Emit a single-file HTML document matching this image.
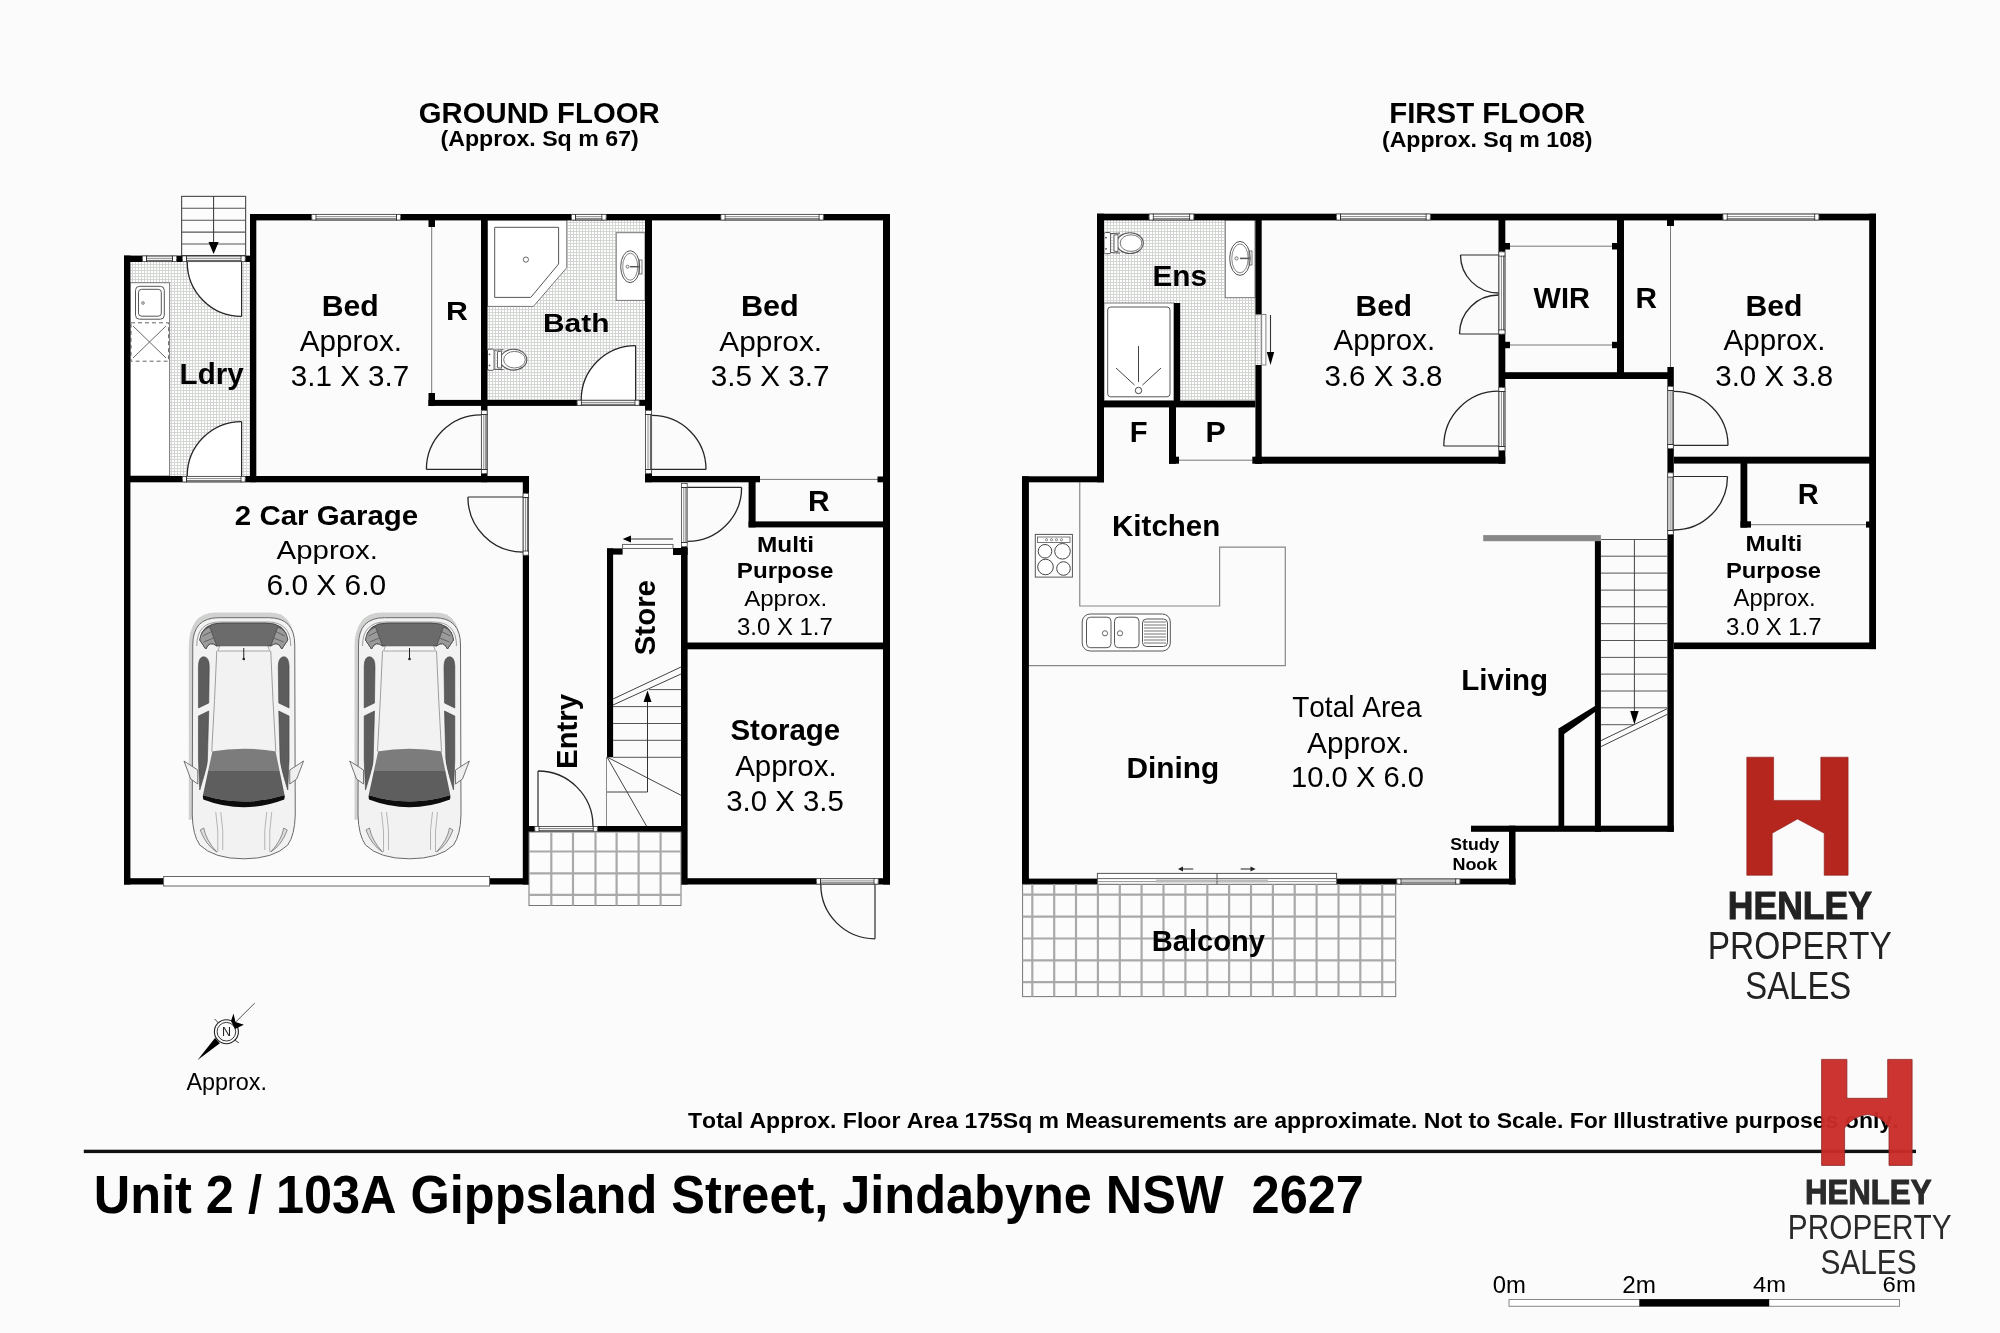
<!DOCTYPE html>
<html><head><meta charset="utf-8"><title>Floor plan</title>
<style>
html,body{margin:0;padding:0;background:#fbfbfb;overflow:hidden;width:2000px;height:1333px;}
svg{display:block;}
text{font-family:"Liberation Sans",sans-serif;font-kerning:none;}
svg{will-change:transform;}
</style></head><body>
<svg width="2000" height="1333" viewBox="0 0 2000 1333">
<defs>
<pattern id="tile" width="3" height="3" patternUnits="userSpaceOnUse"><rect width="3" height="3" fill="#fff"/><rect x="0" y="0" width="3" height="1" fill="#d3d6d3"/><rect x="0" y="0" width="1" height="3" fill="#d3d6d3"/></pattern>
</defs>
<rect width="2000" height="1333" fill="#fbfbfb"/>
<rect x="130.4" y="262" width="119.6" height="214" fill="url(#tile)"/>
<rect x="487.5" y="220" width="157.5" height="180" fill="url(#tile)"/>
<rect x="130" y="282.7" width="39.6" height="193.3" fill="#fff" stroke="#777" stroke-width="1"/>
<rect x="135.5" y="286.3" width="28.8" height="32.9" rx="4" fill="#fff" stroke="#555" stroke-width="1"/>
<rect x="138.5" y="289.3" width="22.8" height="26.9" rx="3" fill="none" stroke="#555" stroke-width="1"/>
<circle cx="143" cy="303" r="1.3" fill="none" stroke="#555" stroke-width="0.8"/>
<rect x="131" y="322.8" width="37.6" height="38.4" fill="none" stroke="#666" stroke-width="1" stroke-dasharray="4 3"/>
<line x1="133.0" y1="326.0" x2="166.0" y2="358.0" stroke="#666" stroke-width="1.00"/>
<line x1="166.0" y1="326.0" x2="133.0" y2="358.0" stroke="#666" stroke-width="1.00"/>
<path d="M241.6 262.0 L241.6 316.4 A54.4 54.4 0 0 1 187.2 262.0 Z" fill="#fff"/>
<line x1="241.6" y1="262.0" x2="241.6" y2="316.4" stroke="#2a2a2a" stroke-width="1.20"/>
<path d="M241.6 316.4 A54.4 54.4 0 0 1 187.2 262.0" fill="none" stroke="#262626" stroke-width="1.30"/>
<path d="M241.6 476.0 L241.6 421.6 A54.4 54.4 0 0 0 187.2 476.0 Z" fill="#fff"/>
<line x1="241.6" y1="476.0" x2="241.6" y2="421.6" stroke="#2a2a2a" stroke-width="1.20"/>
<path d="M241.6 421.6 A54.4 54.4 0 0 0 187.2 476.0" fill="none" stroke="#262626" stroke-width="1.30"/>
<rect x="181.6" y="196.4" width="64" height="59.2" fill="#fcfcfc" stroke="#555" stroke-width="1.2"/>
<line x1="181.6" y1="208.3" x2="245.6" y2="208.3" stroke="#555" stroke-width="1.10"/>
<line x1="181.6" y1="220.2" x2="245.6" y2="220.2" stroke="#555" stroke-width="1.10"/>
<line x1="181.6" y1="232.1" x2="245.6" y2="232.1" stroke="#555" stroke-width="1.10"/>
<line x1="181.6" y1="244.0" x2="245.6" y2="244.0" stroke="#555" stroke-width="1.10"/>
<line x1="213.6" y1="196.4" x2="213.6" y2="244.0" stroke="#333" stroke-width="1.00"/>
<path d="M208.5 242 L218.7 242 L213.6 254 Z" fill="#000"/>
<path d="M487.5 220 L566.75 220 L566.75 267.7 L533.4 306.4 L487.5 306.4 Z" fill="#fff" stroke="#777" stroke-width="1"/>
<path d="M494.7 227.3 L558.6 227.3 L558.6 264 L530.8 297.4 L494.7 297.4 Z" fill="none" stroke="#555" stroke-width="1"/>
<circle cx="525.9" cy="259.6" r="2.6" fill="none" stroke="#555" stroke-width="0.9"/>
<rect x="616.2" y="232.7" width="28.8" height="67.7" fill="#fff" stroke="#777" stroke-width="1"/>
<ellipse cx="630.2" cy="266.7" rx="9.5" ry="16" fill="#fff" stroke="#555" stroke-width="1"/>
<ellipse cx="630.2" cy="266.7" rx="7.5" ry="13.5" fill="none" stroke="#666" stroke-width="0.8"/>
<circle cx="627.5" cy="266.7" r="1.5" fill="none" stroke="#555" stroke-width="0.8"/>
<line x1="630.0" y1="266.7" x2="640.0" y2="266.7" stroke="#555" stroke-width="1.50"/>
<rect x="639" y="260" width="3" height="14" fill="none" stroke="#555" stroke-width="0.8"/>
<g transform="translate(487.5 359.7)">
<rect x="0" y="-10.6" width="6.6" height="21.2" rx="1.5" fill="#fff" stroke="#555" stroke-width="1"/>
<circle cx="2" cy="-5.4" r="0.9" fill="#555"/><circle cx="2" cy="5.7" r="0.9" fill="#555"/>
<ellipse cx="26" cy="0" rx="13.3" ry="10.4" fill="#fff" stroke="#555" stroke-width="1.1"/>
<path d="M6.6 -9.5 L16 -10 M6.6 9.5 L16 10" stroke="#555" stroke-width="1"/>
<path d="M10 -8 L14 -8.5 L14 8.5 L10 8 Z" fill="#fff" stroke="#555" stroke-width="0.9"/>
<ellipse cx="27" cy="0" rx="10.8" ry="8.3" fill="none" stroke="#666" stroke-width="0.9"/>
</g>
<path d="M635.6 400.0 L635.6 345.6 A54.3 54.3 0 0 0 581.2 400.0 Z" fill="#fff"/>
<line x1="635.6" y1="400.0" x2="635.6" y2="345.6" stroke="#2a2a2a" stroke-width="1.20"/>
<path d="M635.6 345.6 A54.3 54.3 0 0 0 581.2 400.0" fill="none" stroke="#262626" stroke-width="1.30"/>
<rect x="250.0" y="214.0" width="640.0" height="6.4" fill="#000"/>
<rect x="124.0" y="255.6" width="126.0" height="6.4" fill="#000"/>
<rect x="124.0" y="255.6" width="6.4" height="628.9" fill="#000"/>
<rect x="250.0" y="214.0" width="6.3" height="268.2" fill="#000"/>
<rect x="124.0" y="476.0" width="405.0" height="6.3" fill="#000"/>
<rect x="522.8" y="476.0" width="6.2" height="408.5" fill="#000"/>
<rect x="124.0" y="878.2" width="405.0" height="6.3" fill="#000"/>
<rect x="428.5" y="220.0" width="6.5" height="7.0" fill="#000"/>
<rect x="428.5" y="393.0" width="6.5" height="13.0" fill="#000"/>
<line x1="431.7" y1="227.0" x2="431.7" y2="393.0" stroke="#777" stroke-width="1.00"/>
<rect x="428.5" y="399.9" width="223.5" height="6.0" fill="#000"/>
<rect x="481.0" y="214.0" width="6.5" height="268.2" fill="#000"/>
<rect x="645.0" y="214.0" width="7.0" height="268.2" fill="#000"/>
<rect x="645.0" y="476.0" width="115.0" height="6.3" fill="#000"/>
<line x1="760.0" y1="479.4" x2="880.0" y2="479.4" stroke="#777" stroke-width="1.00"/>
<rect x="877.5" y="476.5" width="5.5" height="5.8" fill="#000"/>
<rect x="748.6" y="476.0" width="7.0" height="51.4" fill="#000"/>
<rect x="748.6" y="521.4" width="141.4" height="6.0" fill="#000"/>
<rect x="883.0" y="214.0" width="7.0" height="670.5" fill="#000"/>
<rect x="681.0" y="547.0" width="6.6" height="337.5" fill="#000"/>
<rect x="687.0" y="642.5" width="203.0" height="6.8" fill="#000"/>
<rect x="607.0" y="548.4" width="6.1" height="208.9" fill="#000"/>
<rect x="607.0" y="548.4" width="15.6" height="6.2" fill="#000"/>
<rect x="673.0" y="548.0" width="14.6" height="7.0" fill="#000"/>
<rect x="529.0" y="826.0" width="152.0" height="6.0" fill="#000"/>
<rect x="681.0" y="878.2" width="209.0" height="6.3" fill="#000"/>
<rect x="311.8" y="214.4" width="88.7" height="5.5" fill="#fff" stroke="#555" stroke-width="0.9"/>
<line x1="311.4" y1="216.7" x2="401.0" y2="216.7" stroke="#8a8a8a" stroke-width="1.00"/>
<line x1="311.4" y1="218.8" x2="401.0" y2="218.8" stroke="#444" stroke-width="0.90"/>
<line x1="315.9" y1="214.0" x2="315.9" y2="220.4" stroke="#333" stroke-width="1.00"/>
<line x1="396.5" y1="214.0" x2="396.5" y2="220.4" stroke="#333" stroke-width="1.00"/>
<rect x="312.4" y="215.0" width="3.0" height="4.4" fill="#fff"/>
<rect x="397.0" y="215.0" width="3.0" height="4.4" fill="#fff"/>
<rect x="571.5" y="214.4" width="34.6" height="5.5" fill="#fff" stroke="#555" stroke-width="0.9"/>
<line x1="571.0" y1="216.7" x2="606.5" y2="216.7" stroke="#8a8a8a" stroke-width="1.00"/>
<line x1="571.0" y1="218.8" x2="606.5" y2="218.8" stroke="#444" stroke-width="0.90"/>
<line x1="575.5" y1="214.0" x2="575.5" y2="220.4" stroke="#333" stroke-width="1.00"/>
<line x1="602.0" y1="214.0" x2="602.0" y2="220.4" stroke="#333" stroke-width="1.00"/>
<rect x="572.0" y="215.0" width="3.0" height="4.4" fill="#fff"/>
<rect x="602.5" y="215.0" width="3.0" height="4.4" fill="#fff"/>
<rect x="721.0" y="214.4" width="102.3" height="5.5" fill="#fff" stroke="#555" stroke-width="0.9"/>
<line x1="720.5" y1="216.7" x2="823.7" y2="216.7" stroke="#8a8a8a" stroke-width="1.00"/>
<line x1="720.5" y1="218.8" x2="823.7" y2="218.8" stroke="#444" stroke-width="0.90"/>
<line x1="725.0" y1="214.0" x2="725.0" y2="220.4" stroke="#333" stroke-width="1.00"/>
<line x1="819.2" y1="214.0" x2="819.2" y2="220.4" stroke="#333" stroke-width="1.00"/>
<rect x="721.5" y="215.0" width="3.0" height="4.4" fill="#fff"/>
<rect x="819.7" y="215.0" width="3.0" height="4.4" fill="#fff"/>
<rect x="142.4" y="256.1" width="34.1" height="5.5" fill="#fff" stroke="#555" stroke-width="0.9"/>
<line x1="142.0" y1="258.3" x2="177.0" y2="258.3" stroke="#8a8a8a" stroke-width="1.00"/>
<line x1="142.0" y1="260.4" x2="177.0" y2="260.4" stroke="#444" stroke-width="0.90"/>
<line x1="146.5" y1="255.6" x2="146.5" y2="262.0" stroke="#333" stroke-width="1.00"/>
<line x1="172.5" y1="255.6" x2="172.5" y2="262.0" stroke="#333" stroke-width="1.00"/>
<rect x="143.0" y="256.6" width="3.0" height="4.4" fill="#fff"/>
<rect x="173.0" y="256.6" width="3.0" height="4.4" fill="#fff"/>
<rect x="182.4" y="256.1" width="62.7" height="5.5" fill="#fff" stroke="#555" stroke-width="0.9"/>
<line x1="182.0" y1="258.3" x2="245.6" y2="258.3" stroke="#8a8a8a" stroke-width="1.00"/>
<line x1="182.0" y1="260.4" x2="245.6" y2="260.4" stroke="#444" stroke-width="0.90"/>
<line x1="186.5" y1="255.6" x2="186.5" y2="262.0" stroke="#333" stroke-width="1.00"/>
<line x1="241.1" y1="255.6" x2="241.1" y2="262.0" stroke="#333" stroke-width="1.00"/>
<rect x="183.0" y="256.6" width="3.0" height="4.4" fill="#fff"/>
<rect x="241.6" y="256.6" width="3.0" height="4.4" fill="#fff"/>
<rect x="182.4" y="476.4" width="62.7" height="5.4" fill="#fff" stroke="#555" stroke-width="0.9"/>
<line x1="182.0" y1="478.6" x2="245.6" y2="478.6" stroke="#8a8a8a" stroke-width="1.00"/>
<line x1="182.0" y1="480.7" x2="245.6" y2="480.7" stroke="#444" stroke-width="0.90"/>
<line x1="186.5" y1="476.0" x2="186.5" y2="482.3" stroke="#333" stroke-width="1.00"/>
<line x1="241.1" y1="476.0" x2="241.1" y2="482.3" stroke="#333" stroke-width="1.00"/>
<rect x="183.0" y="477.0" width="3.0" height="4.3" fill="#fff"/>
<rect x="241.6" y="477.0" width="3.0" height="4.3" fill="#fff"/>
<rect x="577.2" y="400.3" width="61.9" height="5.1" fill="#fff" stroke="#555" stroke-width="0.9"/>
<line x1="576.8" y1="402.4" x2="639.6" y2="402.4" stroke="#8a8a8a" stroke-width="1.00"/>
<line x1="576.8" y1="404.3" x2="639.6" y2="404.3" stroke="#444" stroke-width="0.90"/>
<line x1="581.3" y1="399.9" x2="581.3" y2="405.9" stroke="#333" stroke-width="1.00"/>
<line x1="635.1" y1="399.9" x2="635.1" y2="405.9" stroke="#333" stroke-width="1.00"/>
<rect x="577.8" y="400.9" width="3.0" height="4.0" fill="#fff"/>
<rect x="635.6" y="400.9" width="3.0" height="4.0" fill="#fff"/>
<rect x="481.4" y="410.4" width="5.6" height="63.1" fill="#fff" stroke="#555" stroke-width="0.9"/>
<line x1="483.8" y1="410.0" x2="483.8" y2="474.0" stroke="#8a8a8a" stroke-width="1.00"/>
<line x1="485.9" y1="410.0" x2="485.9" y2="474.0" stroke="#444" stroke-width="0.90"/>
<line x1="481.0" y1="414.5" x2="487.5" y2="414.5" stroke="#333" stroke-width="1.00"/>
<line x1="481.0" y1="469.5" x2="487.5" y2="469.5" stroke="#333" stroke-width="1.00"/>
<rect x="482.0" y="411.0" width="4.5" height="3.0" fill="#fff"/>
<rect x="482.0" y="470.0" width="4.5" height="3.0" fill="#fff"/>
<rect x="645.5" y="410.4" width="6.1" height="63.1" fill="#fff" stroke="#555" stroke-width="0.9"/>
<line x1="648.0" y1="410.0" x2="648.0" y2="474.0" stroke="#8a8a8a" stroke-width="1.00"/>
<line x1="650.4" y1="410.0" x2="650.4" y2="474.0" stroke="#444" stroke-width="0.90"/>
<line x1="645.0" y1="414.5" x2="652.0" y2="414.5" stroke="#333" stroke-width="1.00"/>
<line x1="645.0" y1="469.5" x2="652.0" y2="469.5" stroke="#333" stroke-width="1.00"/>
<rect x="646.0" y="411.0" width="5.0" height="3.0" fill="#fff"/>
<rect x="646.0" y="470.0" width="5.0" height="3.0" fill="#fff"/>
<rect x="523.2" y="493.4" width="5.3" height="61.7" fill="#fff" stroke="#555" stroke-width="0.9"/>
<line x1="525.4" y1="493.0" x2="525.4" y2="555.6" stroke="#8a8a8a" stroke-width="1.00"/>
<line x1="527.4" y1="493.0" x2="527.4" y2="555.6" stroke="#444" stroke-width="0.90"/>
<line x1="522.8" y1="497.5" x2="529.0" y2="497.5" stroke="#333" stroke-width="1.00"/>
<line x1="522.8" y1="551.1" x2="529.0" y2="551.1" stroke="#333" stroke-width="1.00"/>
<rect x="523.8" y="494.0" width="4.2" height="3.0" fill="#fff"/>
<rect x="523.8" y="551.6" width="4.2" height="3.0" fill="#fff"/>
<rect x="681.5" y="483.4" width="5.7" height="63.1" fill="#fff" stroke="#555" stroke-width="0.9"/>
<line x1="683.8" y1="483.0" x2="683.8" y2="547.0" stroke="#8a8a8a" stroke-width="1.00"/>
<line x1="686.0" y1="483.0" x2="686.0" y2="547.0" stroke="#444" stroke-width="0.90"/>
<line x1="681.0" y1="487.5" x2="687.6" y2="487.5" stroke="#333" stroke-width="1.00"/>
<line x1="681.0" y1="542.5" x2="687.6" y2="542.5" stroke="#333" stroke-width="1.00"/>
<rect x="682.0" y="484.0" width="4.6" height="3.0" fill="#fff"/>
<rect x="682.0" y="543.0" width="4.6" height="3.0" fill="#fff"/>
<rect x="534.9" y="826.5" width="62.5" height="5.1" fill="#fff" stroke="#555" stroke-width="0.9"/>
<line x1="534.4" y1="828.5" x2="597.8" y2="828.5" stroke="#8a8a8a" stroke-width="1.00"/>
<line x1="534.4" y1="830.4" x2="597.8" y2="830.4" stroke="#444" stroke-width="0.90"/>
<line x1="538.9" y1="826.0" x2="538.9" y2="832.0" stroke="#333" stroke-width="1.00"/>
<line x1="593.3" y1="826.0" x2="593.3" y2="832.0" stroke="#333" stroke-width="1.00"/>
<rect x="535.4" y="827.0" width="3.0" height="4.0" fill="#fff"/>
<rect x="593.8" y="827.0" width="3.0" height="4.0" fill="#fff"/>
<rect x="816.5" y="878.7" width="61.7" height="5.4" fill="#fff" stroke="#555" stroke-width="0.9"/>
<line x1="816.0" y1="880.9" x2="878.6" y2="880.9" stroke="#8a8a8a" stroke-width="1.00"/>
<line x1="816.0" y1="882.9" x2="878.6" y2="882.9" stroke="#444" stroke-width="0.90"/>
<line x1="820.5" y1="878.2" x2="820.5" y2="884.5" stroke="#333" stroke-width="1.00"/>
<line x1="874.1" y1="878.2" x2="874.1" y2="884.5" stroke="#333" stroke-width="1.00"/>
<rect x="817.0" y="879.2" width="3.0" height="4.3" fill="#fff"/>
<rect x="874.6" y="879.2" width="3.0" height="4.3" fill="#fff"/>
<rect x="163.6" y="876.5" width="325.9" height="9.5" fill="#fff" stroke="#666" stroke-width="1"/>
<rect x="622.6" y="544.4" width="50.4" height="4" fill="#fff" stroke="#555" stroke-width="0.9"/>
<line x1="628.0" y1="539.0" x2="673.0" y2="539.0" stroke="#333" stroke-width="1.10"/>
<path d="M622.7 539 L631 535.5 L631 542.5 Z" fill="#000"/>
<line x1="481.0" y1="469.4" x2="426.4" y2="469.4" stroke="#2a2a2a" stroke-width="1.20"/>
<path d="M426.4 469.4 A54.6 54.6 0 0 1 481.0 414.8" fill="none" stroke="#262626" stroke-width="1.30"/>
<line x1="652.0" y1="469.4" x2="706.0" y2="469.4" stroke="#2a2a2a" stroke-width="1.20"/>
<path d="M706.0 469.4 A54.0 54.0 0 0 0 652.0 415.4" fill="none" stroke="#262626" stroke-width="1.30"/>
<line x1="523.0" y1="497.0" x2="467.9" y2="497.0" stroke="#2a2a2a" stroke-width="1.20"/>
<path d="M467.9 497.0 A55.1 55.1 0 0 0 523.0 552.1" fill="none" stroke="#262626" stroke-width="1.30"/>
<line x1="687.6" y1="487.4" x2="741.6" y2="487.4" stroke="#2a2a2a" stroke-width="1.20"/>
<path d="M741.6 487.4 A54.0 54.0 0 0 1 687.6 541.4" fill="none" stroke="#262626" stroke-width="1.30"/>
<line x1="538.0" y1="826.0" x2="538.0" y2="771.0" stroke="#2a2a2a" stroke-width="1.20"/>
<path d="M538.0 771.0 A55.0 55.0 0 0 1 593.0 826.0" fill="none" stroke="#262626" stroke-width="1.30"/>
<line x1="875.0" y1="884.5" x2="875.0" y2="938.8" stroke="#2a2a2a" stroke-width="1.20"/>
<path d="M875.0 938.8 A54.2 54.2 0 0 1 820.8 884.5" fill="none" stroke="#262626" stroke-width="1.30"/>
<line x1="613.0" y1="699.0" x2="681.0" y2="667.0" stroke="#444" stroke-width="1.00"/>
<line x1="613.0" y1="705.0" x2="681.0" y2="674.0" stroke="#444" stroke-width="1.00"/>
<line x1="649.0" y1="689.6" x2="681.0" y2="689.6" stroke="#555" stroke-width="1.00"/>
<line x1="613.0" y1="706.6" x2="681.0" y2="706.6" stroke="#555" stroke-width="1.00"/>
<line x1="613.0" y1="723.5" x2="681.0" y2="723.5" stroke="#555" stroke-width="1.00"/>
<line x1="613.0" y1="740.3" x2="681.0" y2="740.3" stroke="#555" stroke-width="1.00"/>
<line x1="613.0" y1="757.3" x2="681.0" y2="757.3" stroke="#555" stroke-width="1.00"/>
<line x1="606.5" y1="757.0" x2="606.5" y2="826.0" stroke="#888" stroke-width="1.00"/>
<line x1="607.0" y1="757.0" x2="681.0" y2="795.3" stroke="#444" stroke-width="1.00"/>
<line x1="607.0" y1="757.0" x2="646.5" y2="826.0" stroke="#444" stroke-width="1.00"/>
<line x1="607.0" y1="792.0" x2="647.5" y2="792.0" stroke="#444" stroke-width="1.00"/>
<line x1="647.5" y1="792.0" x2="647.5" y2="700.0" stroke="#333" stroke-width="1.00"/>
<path d="M647.5 690.5 L643.5 702 L651.5 702 Z" fill="#000"/>
<rect x="529" y="832" width="152" height="73.5" fill="#fcfcfc" stroke="#777" stroke-width="1"/>
<line x1="551.3" y1="832.0" x2="551.3" y2="905.5" stroke="#a9a9a9" stroke-width="2.20"/>
<line x1="573.0" y1="832.0" x2="573.0" y2="905.5" stroke="#a9a9a9" stroke-width="2.20"/>
<line x1="595.5" y1="832.0" x2="595.5" y2="905.5" stroke="#a9a9a9" stroke-width="2.20"/>
<line x1="616.6" y1="832.0" x2="616.6" y2="905.5" stroke="#a9a9a9" stroke-width="2.20"/>
<line x1="638.6" y1="832.0" x2="638.6" y2="905.5" stroke="#a9a9a9" stroke-width="2.20"/>
<line x1="660.6" y1="832.0" x2="660.6" y2="905.5" stroke="#a9a9a9" stroke-width="2.20"/>
<line x1="529.0" y1="851.5" x2="681.0" y2="851.5" stroke="#a9a9a9" stroke-width="2.20"/>
<line x1="529.0" y1="873.3" x2="681.0" y2="873.3" stroke="#a9a9a9" stroke-width="2.20"/>
<line x1="529.0" y1="894.8" x2="681.0" y2="894.8" stroke="#a9a9a9" stroke-width="2.20"/>
<g transform="translate(243.75 0)">
<path d="M-55 648 Q-55 612.4 -28 612.4 L26 612.4 Q49 612.4 50 640 L50 800 L-55 820 Z" fill="#cfd2cf"/>
<path d="M-51 645 Q-51 617.7 -25 617.7 L25 617.7 Q51 617.7 51 645 L51.5 815 Q51 835 44 845 Q30 858.8 0 858.8 Q-30 858.8 -44 845 Q-51 835 -51.5 815 Z" fill="#f2f2f2" stroke="#6a6a6a" stroke-width="1"/>
<path d="M-47 646 Q-47 622 -24 622 L24 622 Q47 622 47 646" fill="none" stroke="#888" stroke-width="0.8"/>
<path d="M-44 640 Q-42 623 -22 623 L22 623 Q42 623 44 640 L38 649 Q34 640 27 646 L-27 646 Q-34 640 -38 649 Z" fill="#6b6b6b" stroke="#3a3a3a" stroke-width="0.8"/>
<path d="M-44 640 Q-43 630 -34 627 L-27 646 Q-34 640 -38 649 Z" fill="#9a9a9a" stroke="#444" stroke-width="0.7"/>
<path d="M44 640 Q43 630 34 627 L27 646 Q34 640 38 649 Z" fill="#9a9a9a" stroke="#444" stroke-width="0.7"/>
<path d="M-41 636 L-31 631 M-40 642 L-30 638 M41 636 L31 631 M40 642 L30 638" stroke="#555" stroke-width="0.8"/>
<path d="M-24 646 L24 646 L26 651 L-26 651 Z" fill="#f6f6f6" stroke="#888" stroke-width="0.7"/>
<path d="M-27 651 Q-29 700 -32 751 M27 651 Q29 700 32 751" fill="none" stroke="#888" stroke-width="0.8"/>
<path d="M-45.3 666 Q-45 656.7 -40 656.7 Q-34.5 657 -34.5 667 L-35 703 L-45.3 708 Z" fill="#5d5d5d" stroke="#444" stroke-width="0.6"/>
<path d="M45.3 666 Q45 656.7 40 656.7 Q34.5 657 34.5 667 L35 703 L45.3 708 Z" fill="#5d5d5d" stroke="#444" stroke-width="0.6"/>
<path d="M-45.3 716 L-35 711 L-36.5 765 L-44 790 L-45.3 760 Z" fill="#5d5d5d" stroke="#444" stroke-width="0.6"/>
<path d="M45.3 716 L35 711 L36.5 765 L44 790 L45.3 760 Z" fill="#5d5d5d" stroke="#444" stroke-width="0.6"/>
<path d="M-32.5 751.4 Q0 746 32.9 751.4 L37 771 L-37 771 Z" fill="#7c7c7c"/>
<path d="M-37 771 L37 771 L41.3 795 Q0 808 -41.3 795 Z" fill="#5e5e5e"/>
<path d="M-41.3 795 Q0 808 41.3 795 L40.5 799.5 Q0 815 -40.5 799.5 Z" fill="#0d0d0d"/>
<path d="M-32.5 751.4 L-43 800 M32.9 751.4 L43 800" stroke="#f2f2f2" stroke-width="2.2"/>
<path d="M-46 770 L-59.8 761 L-53 779 L-46 784 Z" fill="#efefef" stroke="#555" stroke-width="0.8"/>
<path d="M46 770 L59.8 761 L53 779 L46 784 Z" fill="#efefef" stroke="#555" stroke-width="0.8"/>
<path d="M-28 812 Q-25 830 -26 852 M28 812 Q25 830 26 852 M-23 812 Q-20 830 -21 850 M23 812 Q20 830 21 850" fill="none" stroke="#9a9a9a" stroke-width="0.7"/>
<path d="M-43.5 830 Q-38 845 -27 852 Q-38 840 -40 828 Z M43.5 830 Q38 845 27 852 Q38 840 40 828 Z" fill="#ddd" stroke="#666" stroke-width="0.7"/>
<line x1="0.0" y1="648.0" x2="0.0" y2="658.0" stroke="#222" stroke-width="1.00"/>
<circle cx="0" cy="659" r="1.3" fill="#222"/>
</g>
<g transform="translate(409.50 0)">
<path d="M-55 648 Q-55 612.4 -28 612.4 L26 612.4 Q49 612.4 50 640 L50 800 L-55 820 Z" fill="#cfd2cf"/>
<path d="M-51 645 Q-51 617.7 -25 617.7 L25 617.7 Q51 617.7 51 645 L51.5 815 Q51 835 44 845 Q30 858.8 0 858.8 Q-30 858.8 -44 845 Q-51 835 -51.5 815 Z" fill="#f2f2f2" stroke="#6a6a6a" stroke-width="1"/>
<path d="M-47 646 Q-47 622 -24 622 L24 622 Q47 622 47 646" fill="none" stroke="#888" stroke-width="0.8"/>
<path d="M-44 640 Q-42 623 -22 623 L22 623 Q42 623 44 640 L38 649 Q34 640 27 646 L-27 646 Q-34 640 -38 649 Z" fill="#6b6b6b" stroke="#3a3a3a" stroke-width="0.8"/>
<path d="M-44 640 Q-43 630 -34 627 L-27 646 Q-34 640 -38 649 Z" fill="#9a9a9a" stroke="#444" stroke-width="0.7"/>
<path d="M44 640 Q43 630 34 627 L27 646 Q34 640 38 649 Z" fill="#9a9a9a" stroke="#444" stroke-width="0.7"/>
<path d="M-41 636 L-31 631 M-40 642 L-30 638 M41 636 L31 631 M40 642 L30 638" stroke="#555" stroke-width="0.8"/>
<path d="M-24 646 L24 646 L26 651 L-26 651 Z" fill="#f6f6f6" stroke="#888" stroke-width="0.7"/>
<path d="M-27 651 Q-29 700 -32 751 M27 651 Q29 700 32 751" fill="none" stroke="#888" stroke-width="0.8"/>
<path d="M-45.3 666 Q-45 656.7 -40 656.7 Q-34.5 657 -34.5 667 L-35 703 L-45.3 708 Z" fill="#5d5d5d" stroke="#444" stroke-width="0.6"/>
<path d="M45.3 666 Q45 656.7 40 656.7 Q34.5 657 34.5 667 L35 703 L45.3 708 Z" fill="#5d5d5d" stroke="#444" stroke-width="0.6"/>
<path d="M-45.3 716 L-35 711 L-36.5 765 L-44 790 L-45.3 760 Z" fill="#5d5d5d" stroke="#444" stroke-width="0.6"/>
<path d="M45.3 716 L35 711 L36.5 765 L44 790 L45.3 760 Z" fill="#5d5d5d" stroke="#444" stroke-width="0.6"/>
<path d="M-32.5 751.4 Q0 746 32.9 751.4 L37 771 L-37 771 Z" fill="#7c7c7c"/>
<path d="M-37 771 L37 771 L41.3 795 Q0 808 -41.3 795 Z" fill="#5e5e5e"/>
<path d="M-41.3 795 Q0 808 41.3 795 L40.5 799.5 Q0 815 -40.5 799.5 Z" fill="#0d0d0d"/>
<path d="M-32.5 751.4 L-43 800 M32.9 751.4 L43 800" stroke="#f2f2f2" stroke-width="2.2"/>
<path d="M-46 770 L-59.8 761 L-53 779 L-46 784 Z" fill="#efefef" stroke="#555" stroke-width="0.8"/>
<path d="M46 770 L59.8 761 L53 779 L46 784 Z" fill="#efefef" stroke="#555" stroke-width="0.8"/>
<path d="M-28 812 Q-25 830 -26 852 M28 812 Q25 830 26 852 M-23 812 Q-20 830 -21 850 M23 812 Q20 830 21 850" fill="none" stroke="#9a9a9a" stroke-width="0.7"/>
<path d="M-43.5 830 Q-38 845 -27 852 Q-38 840 -40 828 Z M43.5 830 Q38 845 27 852 Q38 840 40 828 Z" fill="#ddd" stroke="#666" stroke-width="0.7"/>
<line x1="0.0" y1="648.0" x2="0.0" y2="658.0" stroke="#222" stroke-width="1.00"/>
<circle cx="0" cy="659" r="1.3" fill="#222"/>
</g>
<text x="418.80" y="123.20" font-size="30.23" font-weight="bold" textLength="240.80" lengthAdjust="spacingAndGlyphs" fill="#000">GROUND FLOOR</text>
<text x="440.45" y="146.40" font-size="22.53" font-weight="bold" textLength="198.31" lengthAdjust="spacingAndGlyphs" fill="#000">(Approx. Sq m 67)</text>
<text x="321.68" y="315.60" font-size="28.92" font-weight="bold" textLength="57.01" lengthAdjust="spacingAndGlyphs" fill="#000">Bed</text>
<text x="299.84" y="350.90" font-size="29.36" font-weight="normal" textLength="102.16" lengthAdjust="spacingAndGlyphs" fill="#000">Approx.</text>
<text x="290.87" y="385.90" font-size="28.92" font-weight="normal" textLength="118.31" lengthAdjust="spacingAndGlyphs" fill="#000">3.1 X 3.7</text>
<text x="445.98" y="320.40" font-size="26.16" font-weight="bold" textLength="21.84" lengthAdjust="spacingAndGlyphs" fill="#000">R</text>
<text x="179.62" y="384.00" font-size="29.65" font-weight="bold" textLength="64.04" lengthAdjust="spacingAndGlyphs" fill="#000">Ldry</text>
<text x="543.00" y="332.20" font-size="26.45" font-weight="bold" textLength="66.46" lengthAdjust="spacingAndGlyphs" fill="#000">Bath</text>
<text x="740.95" y="315.70" font-size="29.07" font-weight="bold" textLength="57.87" lengthAdjust="spacingAndGlyphs" fill="#000">Bed</text>
<text x="719.34" y="350.50" font-size="28.34" font-weight="normal" textLength="102.78" lengthAdjust="spacingAndGlyphs" fill="#000">Approx.</text>
<text x="710.77" y="386.00" font-size="29.65" font-weight="normal" textLength="118.72" lengthAdjust="spacingAndGlyphs" fill="#000">3.5 X 3.7</text>
<text x="808.00" y="511.00" font-size="29.07" font-weight="bold" textLength="21.62" lengthAdjust="spacingAndGlyphs" fill="#000">R</text>
<text x="756.97" y="552.40" font-size="22.97" font-weight="bold" textLength="56.96" lengthAdjust="spacingAndGlyphs" fill="#000">Multi</text>
<text x="736.89" y="577.50" font-size="22.53" font-weight="bold" textLength="96.54" lengthAdjust="spacingAndGlyphs" fill="#000">Purpose</text>
<text x="744.15" y="606.00" font-size="22.67" font-weight="normal" textLength="83.05" lengthAdjust="spacingAndGlyphs" fill="#000">Approx.</text>
<text x="737.09" y="634.50" font-size="24.27" font-weight="normal" textLength="95.71" lengthAdjust="spacingAndGlyphs" fill="#000">3.0 X 1.7</text>
<text x="234.88" y="524.50" font-size="28.34" font-weight="bold" textLength="183.23" lengthAdjust="spacingAndGlyphs" fill="#000">2 Car Garage</text>
<text x="276.64" y="558.90" font-size="26.60" font-weight="normal" textLength="101.24" lengthAdjust="spacingAndGlyphs" fill="#000">Approx.</text>
<text x="266.48" y="595.00" font-size="28.63" font-weight="normal" textLength="119.69" lengthAdjust="spacingAndGlyphs" fill="#000">6.0 X 6.0</text>
<text x="730.45" y="740.30" font-size="30.09" font-weight="bold" textLength="109.76" lengthAdjust="spacingAndGlyphs" fill="#000">Storage</text>
<text x="735.14" y="775.80" font-size="29.80" font-weight="normal" textLength="101.55" lengthAdjust="spacingAndGlyphs" fill="#000">Approx.</text>
<text x="726.28" y="810.50" font-size="29.22" font-weight="normal" textLength="117.45" lengthAdjust="spacingAndGlyphs" fill="#000">3.0 X 3.5</text>
<text transform="translate(655.00 654.50) rotate(-90)" x="-0.85" y="0" font-size="29.80" font-weight="bold" textLength="75.36" lengthAdjust="spacingAndGlyphs">Store</text>
<text transform="translate(576.80 767.00) rotate(-90)" x="-1.97" y="0" font-size="30.23" font-weight="bold" textLength="75.12" lengthAdjust="spacingAndGlyphs">Entry</text>
<circle cx="226.4" cy="1031.7" r="12" fill="#fcfcfc" stroke="#222" stroke-width="1.1"/>
<circle cx="226.4" cy="1031.7" r="9.3" fill="none" stroke="#222" stroke-width="0.9"/>
<line x1="214.6" y1="1018.9" x2="218.5" y2="1023.0" stroke="#333" stroke-width="0.90"/>
<line x1="234.5" y1="1040.0" x2="238.9" y2="1042.8" stroke="#333" stroke-width="0.90"/>
<line x1="236.0" y1="1021.8" x2="254.6" y2="1003.2" stroke="#444" stroke-width="0.90"/>
<path d="M197.6 1060.1 L215 1037.9 L219.9 1043.2 Z" fill="#000"/>
<path d="M233.5 1013.5 L235.5 1022 L243.9 1024.7 L235 1029 L231 1021 Z" fill="#000"/>
<text x="226.4" y="1036.2" font-size="12.5" text-anchor="middle" fill="#222">N</text>
<text x="186.45" y="1090.30" font-size="23.98" font-weight="normal" textLength="80.58" lengthAdjust="spacingAndGlyphs" fill="#000">Approx.</text>
<rect x="1104" y="220" width="151.4" height="180.6" fill="url(#tile)"/>
<rect x="1255" y="314.5" width="7" height="50.5" fill="url(#tile)"/>
<rect x="1104" y="303" width="70" height="98" fill="#fff" stroke="#777" stroke-width="1"/>
<rect x="1107.7" y="307" width="62.3" height="89.8" rx="3" fill="none" stroke="#555" stroke-width="1"/>
<line x1="1138.5" y1="346.0" x2="1138.5" y2="382.0" stroke="#444" stroke-width="1.00"/>
<line x1="1116.0" y1="368.0" x2="1134.5" y2="385.0" stroke="#444" stroke-width="1.00"/>
<line x1="1161.0" y1="368.0" x2="1142.5" y2="385.0" stroke="#444" stroke-width="1.00"/>
<circle cx="1138.5" cy="390.5" r="3.2" fill="#fff" stroke="#444" stroke-width="1"/>
<rect x="1225.3" y="220" width="29.7" height="77.7" fill="#fff" stroke="#777" stroke-width="1"/>
<ellipse cx="1240" cy="258.4" rx="10.3" ry="17" fill="#fff" stroke="#555" stroke-width="1"/>
<ellipse cx="1240" cy="258.4" rx="8.2" ry="14.5" fill="none" stroke="#666" stroke-width="0.8"/>
<circle cx="1236.5" cy="258.4" r="1.6" fill="none" stroke="#555" stroke-width="0.8"/>
<line x1="1240.0" y1="258.4" x2="1250.0" y2="258.4" stroke="#555" stroke-width="1.50"/>
<rect x="1249" y="251" width="3" height="14" fill="none" stroke="#555" stroke-width="0.8"/>
<g transform="translate(1104.0 243.1)">
<rect x="0" y="-10.6" width="6.6" height="21.2" rx="1.5" fill="#fff" stroke="#555" stroke-width="1"/>
<circle cx="2" cy="-5.4" r="0.9" fill="#555"/><circle cx="2" cy="5.7" r="0.9" fill="#555"/>
<ellipse cx="26" cy="0" rx="13.3" ry="10.4" fill="#fff" stroke="#555" stroke-width="1.1"/>
<path d="M6.6 -9.5 L16 -10 M6.6 9.5 L16 10" stroke="#555" stroke-width="1"/>
<path d="M10 -8 L14 -8.5 L14 8.5 L10 8 Z" fill="#fff" stroke="#555" stroke-width="0.9"/>
<ellipse cx="27" cy="0" rx="10.8" ry="8.3" fill="none" stroke="#666" stroke-width="0.9"/>
</g>
<path d="M1028.75 665.6 L1285.3 665.6 L1285.3 547.1 L1219.6 547.1 L1219.6 606 L1079.75 606 L1079.75 482.3" fill="none" stroke="#888" stroke-width="1.2"/>
<rect x="1035.3" y="534.4" width="37.1" height="42.7" fill="#fff" stroke="#555" stroke-width="1"/>
<rect x="1037.5" y="537" width="32.5" height="5.5" fill="none" stroke="#555" stroke-width="0.8"/>
<circle cx="1046.5" cy="539.7" r="1.1" fill="none" stroke="#555" stroke-width="0.7"/>
<circle cx="1051.5" cy="539.7" r="1.1" fill="none" stroke="#555" stroke-width="0.7"/>
<circle cx="1056.5" cy="539.7" r="1.1" fill="none" stroke="#555" stroke-width="0.7"/>
<circle cx="1061.5" cy="539.7" r="1.1" fill="none" stroke="#555" stroke-width="0.7"/>
<circle cx="1045.0" cy="551.3" r="6.8" fill="none" stroke="#444" stroke-width="1"/>
<circle cx="1062.5" cy="551.3" r="7.8" fill="none" stroke="#444" stroke-width="1"/>
<circle cx="1045.5" cy="567.0" r="7.8" fill="none" stroke="#444" stroke-width="1"/>
<circle cx="1063.5" cy="568.5" r="6.8" fill="none" stroke="#444" stroke-width="1"/>
<rect x="1082.2" y="614" width="88.1" height="37" rx="8" fill="#fff" stroke="#555" stroke-width="1"/>
<rect x="1086.5" y="617.2" width="24.5" height="30.5" rx="4" fill="none" stroke="#555" stroke-width="1"/>
<rect x="1114.5" y="617.2" width="24.5" height="30.5" rx="4" fill="none" stroke="#555" stroke-width="1"/>
<rect x="1142.5" y="619" width="25" height="27.5" rx="4" fill="none" stroke="#555" stroke-width="1"/>
<line x1="1144.0" y1="622.0" x2="1166.0" y2="622.0" stroke="#777" stroke-width="1.00"/>
<line x1="1144.0" y1="625.0" x2="1166.0" y2="625.0" stroke="#777" stroke-width="1.00"/>
<line x1="1144.0" y1="628.0" x2="1166.0" y2="628.0" stroke="#777" stroke-width="1.00"/>
<line x1="1144.0" y1="631.0" x2="1166.0" y2="631.0" stroke="#777" stroke-width="1.00"/>
<line x1="1144.0" y1="634.0" x2="1166.0" y2="634.0" stroke="#777" stroke-width="1.00"/>
<line x1="1144.0" y1="637.0" x2="1166.0" y2="637.0" stroke="#777" stroke-width="1.00"/>
<line x1="1144.0" y1="640.0" x2="1166.0" y2="640.0" stroke="#777" stroke-width="1.00"/>
<line x1="1144.0" y1="643.0" x2="1166.0" y2="643.0" stroke="#777" stroke-width="1.00"/>
<circle cx="1105" cy="633.3" r="2.6" fill="none" stroke="#555" stroke-width="0.9"/>
<circle cx="1120" cy="633.3" r="2.6" fill="none" stroke="#555" stroke-width="0.9"/>
<rect x="1097.0" y="213.7" width="779.0" height="6.7" fill="#000"/>
<rect x="1097.0" y="213.7" width="7.0" height="268.6" fill="#000"/>
<rect x="1022.0" y="476.3" width="82.0" height="6.0" fill="#000"/>
<rect x="1022.0" y="476.3" width="6.9" height="408.1" fill="#000"/>
<rect x="1022.0" y="878.6" width="493.5" height="5.8" fill="#000"/>
<rect x="1509.0" y="825.7" width="6.5" height="58.9" fill="#000"/>
<rect x="1471.0" y="825.7" width="202.8" height="6.1" fill="#000"/>
<rect x="1558.5" y="728.5" width="5.7" height="97.5" fill="#000"/>
<path d="M1558.5 728.5 L1595 706 L1595 712 L1564.2 734 Z" fill="#000"/>
<rect x="1594.9" y="541.0" width="6.0" height="290.8" fill="#000"/>
<rect x="1483.2" y="535.1" width="117.7" height="6.1" fill="#888"/>
<rect x="1667.4" y="367.0" width="6.4" height="464.8" fill="#000"/>
<rect x="1674.0" y="642.5" width="202.0" height="6.6" fill="#000"/>
<rect x="1869.2" y="213.7" width="6.8" height="435.4" fill="#000"/>
<rect x="1674.0" y="456.7" width="202.0" height="6.9" fill="#000"/>
<rect x="1740.5" y="463.0" width="6.8" height="64.6" fill="#000"/>
<rect x="1740.5" y="521.3" width="10.5" height="6.3" fill="#000"/>
<rect x="1866.0" y="521.5" width="4.0" height="6.1" fill="#000"/>
<line x1="1751.0" y1="524.7" x2="1866.0" y2="524.7" stroke="#777" stroke-width="1.00"/>
<rect x="1505.0" y="372.2" width="167.0" height="6.8" fill="#000"/>
<rect x="1617.0" y="220.0" width="7.0" height="159.0" fill="#000"/>
<line x1="1510.0" y1="246.2" x2="1612.0" y2="246.2" stroke="#777" stroke-width="1.00"/>
<line x1="1510.0" y1="345.0" x2="1612.0" y2="345.0" stroke="#777" stroke-width="1.00"/>
<rect x="1505.0" y="243.0" width="5.0" height="6.5" fill="#000"/>
<rect x="1612.0" y="243.0" width="5.0" height="6.5" fill="#000"/>
<rect x="1505.0" y="341.8" width="5.0" height="6.4" fill="#000"/>
<rect x="1612.0" y="341.8" width="5.0" height="6.4" fill="#000"/>
<rect x="1667.0" y="220.0" width="7.0" height="6.0" fill="#000"/>
<line x1="1670.5" y1="226.0" x2="1670.5" y2="367.0" stroke="#777" stroke-width="1.00"/>
<rect x="1498.5" y="220.0" width="6.8" height="243.7" fill="#000"/>
<rect x="1255.0" y="456.7" width="250.3" height="7.0" fill="#000"/>
<rect x="1255.4" y="220.0" width="6.3" height="243.7" fill="#000"/>
<rect x="1104.0" y="400.6" width="151.4" height="6.8" fill="#000"/>
<rect x="1173.9" y="303.0" width="6.3" height="98.0" fill="#000"/>
<rect x="1169.0" y="407.0" width="7.0" height="56.7" fill="#000"/>
<rect x="1169.0" y="456.7" width="10.0" height="7.0" fill="#000"/>
<line x1="1179.0" y1="460.2" x2="1252.0" y2="460.2" stroke="#777" stroke-width="1.00"/>
<rect x="1252.3" y="456.7" width="9.7" height="7.0" fill="#000"/>
<rect x="1149.2" y="214.1" width="44.6" height="5.8" fill="#fff" stroke="#555" stroke-width="0.9"/>
<line x1="1148.7" y1="216.6" x2="1194.2" y2="216.6" stroke="#8a8a8a" stroke-width="1.00"/>
<line x1="1148.7" y1="218.8" x2="1194.2" y2="218.8" stroke="#444" stroke-width="0.90"/>
<line x1="1153.2" y1="213.7" x2="1153.2" y2="220.4" stroke="#333" stroke-width="1.00"/>
<line x1="1189.7" y1="213.7" x2="1189.7" y2="220.4" stroke="#333" stroke-width="1.00"/>
<rect x="1149.7" y="214.7" width="3.0" height="4.7" fill="#fff"/>
<rect x="1190.2" y="214.7" width="3.0" height="4.7" fill="#fff"/>
<rect x="1336.5" y="214.1" width="93.8" height="5.8" fill="#fff" stroke="#555" stroke-width="0.9"/>
<line x1="1336.0" y1="216.6" x2="1430.7" y2="216.6" stroke="#8a8a8a" stroke-width="1.00"/>
<line x1="1336.0" y1="218.8" x2="1430.7" y2="218.8" stroke="#444" stroke-width="0.90"/>
<line x1="1340.5" y1="213.7" x2="1340.5" y2="220.4" stroke="#333" stroke-width="1.00"/>
<line x1="1426.2" y1="213.7" x2="1426.2" y2="220.4" stroke="#333" stroke-width="1.00"/>
<rect x="1337.0" y="214.7" width="3.0" height="4.7" fill="#fff"/>
<rect x="1426.7" y="214.7" width="3.0" height="4.7" fill="#fff"/>
<rect x="1723.0" y="214.1" width="95.8" height="5.8" fill="#fff" stroke="#555" stroke-width="0.9"/>
<line x1="1722.6" y1="216.6" x2="1819.3" y2="216.6" stroke="#8a8a8a" stroke-width="1.00"/>
<line x1="1722.6" y1="218.8" x2="1819.3" y2="218.8" stroke="#444" stroke-width="0.90"/>
<line x1="1727.1" y1="213.7" x2="1727.1" y2="220.4" stroke="#333" stroke-width="1.00"/>
<line x1="1814.8" y1="213.7" x2="1814.8" y2="220.4" stroke="#333" stroke-width="1.00"/>
<rect x="1723.6" y="214.7" width="3.0" height="4.7" fill="#fff"/>
<rect x="1815.3" y="214.7" width="3.0" height="4.7" fill="#fff"/>
<rect x="1396.9" y="879.1" width="63.0" height="4.9" fill="#fff" stroke="#555" stroke-width="0.9"/>
<line x1="1396.4" y1="881.0" x2="1460.3" y2="881.0" stroke="#8a8a8a" stroke-width="1.00"/>
<line x1="1396.4" y1="882.8" x2="1460.3" y2="882.8" stroke="#444" stroke-width="0.90"/>
<line x1="1400.9" y1="878.6" x2="1400.9" y2="884.4" stroke="#333" stroke-width="1.00"/>
<line x1="1455.8" y1="878.6" x2="1455.8" y2="884.4" stroke="#333" stroke-width="1.00"/>
<rect x="1397.4" y="879.6" width="3.0" height="3.8" fill="#fff"/>
<rect x="1456.3" y="879.6" width="3.0" height="3.8" fill="#fff"/>
<rect x="1499.0" y="251.9" width="5.9" height="82.1" fill="#fff" stroke="#555" stroke-width="0.9"/>
<line x1="1501.4" y1="251.5" x2="1501.4" y2="334.5" stroke="#8a8a8a" stroke-width="1.00"/>
<line x1="1503.7" y1="251.5" x2="1503.7" y2="334.5" stroke="#444" stroke-width="0.90"/>
<line x1="1498.5" y1="256.0" x2="1505.3" y2="256.0" stroke="#333" stroke-width="1.00"/>
<line x1="1498.5" y1="330.0" x2="1505.3" y2="330.0" stroke="#333" stroke-width="1.00"/>
<rect x="1499.5" y="252.5" width="4.8" height="3.0" fill="#fff"/>
<rect x="1499.5" y="330.5" width="4.8" height="3.0" fill="#fff"/>
<rect x="1499.0" y="387.4" width="5.9" height="63.1" fill="#fff" stroke="#555" stroke-width="0.9"/>
<line x1="1501.4" y1="387.0" x2="1501.4" y2="451.0" stroke="#8a8a8a" stroke-width="1.00"/>
<line x1="1503.7" y1="387.0" x2="1503.7" y2="451.0" stroke="#444" stroke-width="0.90"/>
<line x1="1498.5" y1="391.5" x2="1505.3" y2="391.5" stroke="#333" stroke-width="1.00"/>
<line x1="1498.5" y1="446.5" x2="1505.3" y2="446.5" stroke="#333" stroke-width="1.00"/>
<rect x="1499.5" y="388.0" width="4.8" height="3.0" fill="#fff"/>
<rect x="1499.5" y="447.0" width="4.8" height="3.0" fill="#fff"/>
<rect x="1667.9" y="386.4" width="5.5" height="62.1" fill="#fff" stroke="#555" stroke-width="0.9"/>
<line x1="1670.1" y1="386.0" x2="1670.1" y2="449.0" stroke="#8a8a8a" stroke-width="1.00"/>
<line x1="1672.2" y1="386.0" x2="1672.2" y2="449.0" stroke="#444" stroke-width="0.90"/>
<line x1="1667.4" y1="390.5" x2="1673.8" y2="390.5" stroke="#333" stroke-width="1.00"/>
<line x1="1667.4" y1="444.5" x2="1673.8" y2="444.5" stroke="#333" stroke-width="1.00"/>
<rect x="1668.4" y="387.0" width="4.4" height="3.0" fill="#fff"/>
<rect x="1668.4" y="445.0" width="4.4" height="3.0" fill="#fff"/>
<rect x="1667.9" y="472.9" width="5.5" height="61.6" fill="#fff" stroke="#555" stroke-width="0.9"/>
<line x1="1670.1" y1="472.5" x2="1670.1" y2="535.0" stroke="#8a8a8a" stroke-width="1.00"/>
<line x1="1672.2" y1="472.5" x2="1672.2" y2="535.0" stroke="#444" stroke-width="0.90"/>
<line x1="1667.4" y1="477.0" x2="1673.8" y2="477.0" stroke="#333" stroke-width="1.00"/>
<line x1="1667.4" y1="530.5" x2="1673.8" y2="530.5" stroke="#333" stroke-width="1.00"/>
<rect x="1668.4" y="473.5" width="4.4" height="3.0" fill="#fff"/>
<rect x="1668.4" y="531.0" width="4.4" height="3.0" fill="#fff"/>
<rect x="1255.4" y="314.5" width="6.3" height="50.5" fill="url(#tile)"/>
<rect x="1261.7" y="314.5" width="4.2" height="50.5" fill="#fff" stroke="#777" stroke-width="0.9"/>
<line x1="1270.5" y1="315.0" x2="1270.5" y2="355.0" stroke="#333" stroke-width="1.10"/>
<path d="M1270.5 365 L1266.8 352 L1274.2 352 Z" fill="#000"/>
<rect x="1097.4" y="873.4" width="239.2" height="11" fill="#fff" stroke="#555" stroke-width="1"/>
<line x1="1097.4" y1="878.6" x2="1336.6" y2="878.6" stroke="#555" stroke-width="0.90"/>
<line x1="1097.4" y1="881.6" x2="1336.6" y2="881.6" stroke="#888" stroke-width="0.90"/>
<line x1="1217.0" y1="873.4" x2="1217.0" y2="884.4" stroke="#555" stroke-width="1.00"/>
<rect x="1156" y="879.5" width="60" height="3" fill="#bbb"/>
<rect x="1218" y="879.5" width="50" height="3" fill="#bbb"/>
<line x1="1181.0" y1="869.0" x2="1193.3" y2="869.0" stroke="#222" stroke-width="1.00"/>
<path d="M1177.9 869 L1183 866.5 L1183 871.5 Z" fill="#222"/>
<line x1="1240.7" y1="869.0" x2="1253.0" y2="869.0" stroke="#222" stroke-width="1.00"/>
<path d="M1255.6 869 L1250.5 866.5 L1250.5 871.5 Z" fill="#222"/>
<line x1="1498.5" y1="255.0" x2="1460.5" y2="255.0" stroke="#2a2a2a" stroke-width="1.20"/>
<path d="M1460.5 255.0 A38.0 38.0 0 0 0 1498.5 293.0" fill="none" stroke="#262626" stroke-width="1.30"/>
<line x1="1498.5" y1="334.0" x2="1459.5" y2="334.0" stroke="#2a2a2a" stroke-width="1.20"/>
<path d="M1459.5 334.0 A39.0 39.0 0 0 1 1498.5 295.0" fill="none" stroke="#262626" stroke-width="1.30"/>
<line x1="1498.5" y1="446.0" x2="1443.8" y2="446.0" stroke="#2a2a2a" stroke-width="1.20"/>
<path d="M1443.8 446.0 A54.8 54.8 0 0 1 1498.5 391.2" fill="none" stroke="#262626" stroke-width="1.30"/>
<line x1="1674.0" y1="445.4" x2="1728.0" y2="445.4" stroke="#2a2a2a" stroke-width="1.20"/>
<path d="M1728.0 445.4 A54.0 54.0 0 0 0 1674.0 391.4" fill="none" stroke="#262626" stroke-width="1.30"/>
<line x1="1674.0" y1="476.5" x2="1727.5" y2="476.5" stroke="#2a2a2a" stroke-width="1.20"/>
<path d="M1727.5 476.5 A53.5 53.5 0 0 1 1674.0 530.0" fill="none" stroke="#262626" stroke-width="1.30"/>
<line x1="1601.0" y1="539.5" x2="1667.4" y2="539.5" stroke="#555" stroke-width="1.00"/>
<line x1="1601.0" y1="556.2" x2="1667.4" y2="556.2" stroke="#555" stroke-width="1.00"/>
<line x1="1601.0" y1="573.1" x2="1667.4" y2="573.1" stroke="#555" stroke-width="1.00"/>
<line x1="1601.0" y1="590.1" x2="1667.4" y2="590.1" stroke="#555" stroke-width="1.00"/>
<line x1="1601.0" y1="606.8" x2="1667.4" y2="606.8" stroke="#555" stroke-width="1.00"/>
<line x1="1601.0" y1="623.7" x2="1667.4" y2="623.7" stroke="#555" stroke-width="1.00"/>
<line x1="1601.0" y1="640.5" x2="1667.4" y2="640.5" stroke="#555" stroke-width="1.00"/>
<line x1="1601.0" y1="657.4" x2="1667.4" y2="657.4" stroke="#555" stroke-width="1.00"/>
<line x1="1601.0" y1="674.1" x2="1667.4" y2="674.1" stroke="#555" stroke-width="1.00"/>
<line x1="1601.0" y1="691.0" x2="1667.4" y2="691.0" stroke="#555" stroke-width="1.00"/>
<line x1="1601.0" y1="707.8" x2="1667.4" y2="707.8" stroke="#555" stroke-width="1.00"/>
<line x1="1601.0" y1="724.7" x2="1634.4" y2="724.7" stroke="#555" stroke-width="1.00"/>
<line x1="1634.4" y1="539.5" x2="1634.4" y2="712.0" stroke="#444" stroke-width="1.00"/>
<path d="M1634.4 724.5 L1630.2 711 L1638.6 711 Z" fill="#000"/>
<line x1="1601.0" y1="740.6" x2="1667.4" y2="708.6" stroke="#444" stroke-width="1.00"/>
<line x1="1601.0" y1="746.6" x2="1667.4" y2="714.3" stroke="#444" stroke-width="1.00"/>
<rect x="1022.6" y="884.4" width="373.1" height="112.2" fill="#fcfcfc" stroke="#777" stroke-width="1"/>
<line x1="1032.3" y1="884.4" x2="1032.3" y2="996.6" stroke="#a9a9a9" stroke-width="2.20"/>
<line x1="1054.2" y1="884.4" x2="1054.2" y2="996.6" stroke="#a9a9a9" stroke-width="2.20"/>
<line x1="1076.0" y1="884.4" x2="1076.0" y2="996.6" stroke="#a9a9a9" stroke-width="2.20"/>
<line x1="1097.9" y1="884.4" x2="1097.9" y2="996.6" stroke="#a9a9a9" stroke-width="2.20"/>
<line x1="1119.8" y1="884.4" x2="1119.8" y2="996.6" stroke="#a9a9a9" stroke-width="2.20"/>
<line x1="1141.6" y1="884.4" x2="1141.6" y2="996.6" stroke="#a9a9a9" stroke-width="2.20"/>
<line x1="1163.5" y1="884.4" x2="1163.5" y2="996.6" stroke="#a9a9a9" stroke-width="2.20"/>
<line x1="1185.4" y1="884.4" x2="1185.4" y2="996.6" stroke="#a9a9a9" stroke-width="2.20"/>
<line x1="1207.3" y1="884.4" x2="1207.3" y2="996.6" stroke="#a9a9a9" stroke-width="2.20"/>
<line x1="1229.1" y1="884.4" x2="1229.1" y2="996.6" stroke="#a9a9a9" stroke-width="2.20"/>
<line x1="1251.0" y1="884.4" x2="1251.0" y2="996.6" stroke="#a9a9a9" stroke-width="2.20"/>
<line x1="1272.9" y1="884.4" x2="1272.9" y2="996.6" stroke="#a9a9a9" stroke-width="2.20"/>
<line x1="1294.7" y1="884.4" x2="1294.7" y2="996.6" stroke="#a9a9a9" stroke-width="2.20"/>
<line x1="1316.6" y1="884.4" x2="1316.6" y2="996.6" stroke="#a9a9a9" stroke-width="2.20"/>
<line x1="1338.5" y1="884.4" x2="1338.5" y2="996.6" stroke="#a9a9a9" stroke-width="2.20"/>
<line x1="1360.3" y1="884.4" x2="1360.3" y2="996.6" stroke="#a9a9a9" stroke-width="2.20"/>
<line x1="1382.2" y1="884.4" x2="1382.2" y2="996.6" stroke="#a9a9a9" stroke-width="2.20"/>
<line x1="1022.6" y1="894.7" x2="1395.7" y2="894.7" stroke="#a9a9a9" stroke-width="2.20"/>
<line x1="1022.6" y1="916.6" x2="1395.7" y2="916.6" stroke="#a9a9a9" stroke-width="2.20"/>
<line x1="1022.6" y1="938.5" x2="1395.7" y2="938.5" stroke="#a9a9a9" stroke-width="2.20"/>
<line x1="1022.6" y1="960.3" x2="1395.7" y2="960.3" stroke="#a9a9a9" stroke-width="2.20"/>
<line x1="1022.6" y1="982.2" x2="1395.7" y2="982.2" stroke="#a9a9a9" stroke-width="2.20"/>
<text x="1389.23" y="123.20" font-size="29.94" font-weight="bold" textLength="195.97" lengthAdjust="spacingAndGlyphs" fill="#000">FIRST FLOOR</text>
<text x="1381.95" y="146.60" font-size="22.24" font-weight="bold" textLength="210.60" lengthAdjust="spacingAndGlyphs" fill="#000">(Approx. Sq m 108)</text>
<text x="1152.51" y="286.10" font-size="28.92" font-weight="bold" textLength="54.51" lengthAdjust="spacingAndGlyphs" fill="#000">Ens</text>
<text x="1129.85" y="441.60" font-size="29.07" font-weight="bold" textLength="17.82" lengthAdjust="spacingAndGlyphs" fill="#000">F</text>
<text x="1205.47" y="441.60" font-size="29.07" font-weight="bold" textLength="20.27" lengthAdjust="spacingAndGlyphs" fill="#000">P</text>
<text x="1355.60" y="315.50" font-size="28.92" font-weight="bold" textLength="56.36" lengthAdjust="spacingAndGlyphs" fill="#000">Bed</text>
<text x="1333.54" y="350.20" font-size="29.36" font-weight="normal" textLength="101.55" lengthAdjust="spacingAndGlyphs" fill="#000">Approx.</text>
<text x="1324.48" y="386.00" font-size="29.07" font-weight="normal" textLength="118.00" lengthAdjust="spacingAndGlyphs" fill="#000">3.6 X 3.8</text>
<text x="1533.57" y="307.60" font-size="28.78" font-weight="bold" textLength="56.32" lengthAdjust="spacingAndGlyphs" fill="#000">WIR</text>
<text x="1635.61" y="307.60" font-size="28.78" font-weight="bold" textLength="21.50" lengthAdjust="spacingAndGlyphs" fill="#000">R</text>
<text x="1745.49" y="315.50" font-size="28.92" font-weight="bold" textLength="56.90" lengthAdjust="spacingAndGlyphs" fill="#000">Bed</text>
<text x="1723.64" y="350.00" font-size="29.07" font-weight="normal" textLength="101.96" lengthAdjust="spacingAndGlyphs" fill="#000">Approx.</text>
<text x="1715.28" y="386.00" font-size="29.07" font-weight="normal" textLength="117.90" lengthAdjust="spacingAndGlyphs" fill="#000">3.0 X 3.8</text>
<text x="1797.66" y="503.60" font-size="29.51" font-weight="bold" textLength="20.93" lengthAdjust="spacingAndGlyphs" fill="#000">R</text>
<text x="1745.58" y="551.30" font-size="22.97" font-weight="bold" textLength="56.64" lengthAdjust="spacingAndGlyphs" fill="#000">Multi</text>
<text x="1726.01" y="577.80" font-size="22.97" font-weight="bold" textLength="95.10" lengthAdjust="spacingAndGlyphs" fill="#000">Purpose</text>
<text x="1733.55" y="605.70" font-size="23.55" font-weight="normal" textLength="82.12" lengthAdjust="spacingAndGlyphs" fill="#000">Approx.</text>
<text x="1725.99" y="635.00" font-size="24.27" font-weight="normal" textLength="95.51" lengthAdjust="spacingAndGlyphs" fill="#000">3.0 X 1.7</text>
<text x="1112.02" y="535.90" font-size="30.02" font-weight="bold" textLength="108.31" lengthAdjust="spacingAndGlyphs" fill="#000">Kitchen</text>
<text x="1461.22" y="690.30" font-size="28.78" font-weight="bold" textLength="86.95" lengthAdjust="spacingAndGlyphs" fill="#000">Living</text>
<text x="1292.17" y="717.00" font-size="29.80" font-weight="normal" textLength="129.33" lengthAdjust="spacingAndGlyphs" fill="#000">Total Area</text>
<text x="1307.14" y="752.80" font-size="29.22" font-weight="normal" textLength="102.27" lengthAdjust="spacingAndGlyphs" fill="#000">Approx.</text>
<text x="1291.08" y="787.40" font-size="28.78" font-weight="normal" textLength="132.86" lengthAdjust="spacingAndGlyphs" fill="#000">10.0 X 6.0</text>
<text x="1126.41" y="777.75" font-size="29.58" font-weight="bold" textLength="92.69" lengthAdjust="spacingAndGlyphs" fill="#000">Dining</text>
<text x="1450.29" y="850.00" font-size="16.42" font-weight="bold" textLength="49.10" lengthAdjust="spacingAndGlyphs" fill="#000">Study</text>
<text x="1452.40" y="869.80" font-size="16.86" font-weight="bold" textLength="44.99" lengthAdjust="spacingAndGlyphs" fill="#000">Nook</text>
<text x="1151.75" y="951.10" font-size="30.09" font-weight="bold" textLength="113.20" lengthAdjust="spacingAndGlyphs" fill="#000">Balcony</text>
<rect x="83.8" y="1149.7" width="1832.2" height="3.4" fill="#111"/>
<text x="688.04" y="1128.00" font-size="22.89" font-weight="bold" textLength="1210.54" lengthAdjust="spacingAndGlyphs" fill="#000">Total Approx. Floor Area 175Sq m Measurements are approximate. Not to Scale. For Illustrative purposes only.</text>
<text x="93.72" y="1212.70" font-size="52.91" font-weight="bold" textLength="1270.10" lengthAdjust="spacingAndGlyphs" fill="#000">Unit 2 / 103A Gippsland Street, Jindabyne NSW &#160;2627</text>
<rect x="1509" y="1299.5" width="390.5" height="6.8" fill="#fff" stroke="#888" stroke-width="1"/>
<rect x="1639.3" y="1299.2" width="129.9" height="7.2" fill="#000"/>
<text x="1492.77" y="1292.80" font-size="23.26" font-weight="normal" textLength="33.21" lengthAdjust="spacingAndGlyphs" fill="#000">0m</text>
<text x="1622.38" y="1292.80" font-size="23.26" font-weight="normal" textLength="33.72" lengthAdjust="spacingAndGlyphs" fill="#000">2m</text>
<text x="1752.95" y="1292.20" font-size="21.51" font-weight="normal" textLength="33.01" lengthAdjust="spacingAndGlyphs" fill="#000">4m</text>
<text x="1882.58" y="1292.20" font-size="21.51" font-weight="normal" textLength="33.30" lengthAdjust="spacingAndGlyphs" fill="#000">6m</text>
<path d="M1746.8 757.2 L1773.6 757.2 L1773.6 800.4 L1820.8 800.4 L1820.8 757.2 L1848.1 757.2 L1848.1 875.3 L1824.2 875.3 L1824.2 833.2 L1797.5 819 L1772.2 833.2 L1772.2 875.3 L1746.8 875.3 Z" fill="#b5261f" stroke="#8a1f1a" stroke-width="0.6"/>
<text x="1727.82" y="919.20" font-size="38.23" font-weight="bold" textLength="144.15" lengthAdjust="spacingAndGlyphs" fill="#222" stroke="#222" stroke-width="1">HENLEY</text>
<text x="1707.65" y="959.10" font-size="38.81" font-weight="normal" textLength="184.08" lengthAdjust="spacingAndGlyphs" fill="#222">PROPERTY</text>
<text x="1745.31" y="999.20" font-size="38.81" font-weight="normal" textLength="105.90" lengthAdjust="spacingAndGlyphs" fill="#222">SALES</text>
<path d="M1821.6 1059.4 L1846.9 1059.4 L1846.9 1098.3 L1887.7 1098.3 L1887.7 1059.4 L1912.1 1059.4 L1912.1 1165.4 L1889 1165.4 L1889 1127.5 Q1881 1115.5 1867.5 1114.5 Q1854 1115.5 1844.6 1127.9 L1844.6 1165.4 L1821.6 1165.4 Z" fill="#c92c28" fill-opacity="0.96" stroke="#8e2a28" stroke-width="0.8"/>
<text x="1804.91" y="1203.50" font-size="34.59" font-weight="bold" textLength="126.59" lengthAdjust="spacingAndGlyphs" fill="#2a2a2a" stroke="#2a2a2a" stroke-width="1">HENLEY</text>
<text x="1787.86" y="1239.20" font-size="34.45" font-weight="normal" textLength="163.80" lengthAdjust="spacingAndGlyphs" fill="#2a2a2a">PROPERTY</text>
<text x="1820.44" y="1273.90" font-size="34.59" font-weight="normal" textLength="96.23" lengthAdjust="spacingAndGlyphs" fill="#2a2a2a">SALES</text>
</svg></body></html>
